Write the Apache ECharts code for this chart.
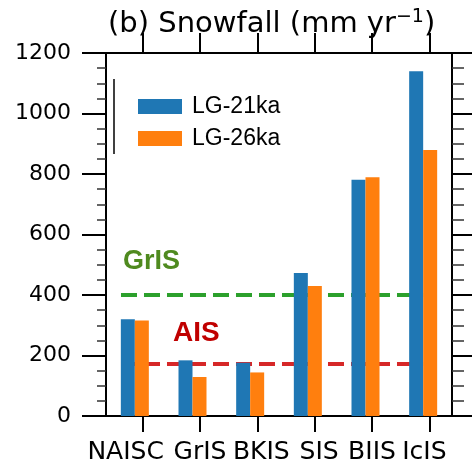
<!DOCTYPE html>
<html>
<head>
<meta charset="utf-8">
<script src="https://cdn.jsdelivr.net/npm/echarts@6/dist/echarts.min.js"></script>
<style>
  html, body { margin: 0; padding: 0; background: #fff; }
  #chart { width: 472px; height: 468px; }
</style>
</head>
<body>
<div id="chart"></div>
<script>
// ice sheets on the x axis
const categories = ['NAISC', 'GrIS', 'BKIS', 'SIS', 'BIIS', 'IcIS']
// snowfall, mm/yr
const lg21 = [320, 184, 176, 473, 781, 1140]
const lg26 = [316, 129, 144, 430, 789, 879]
// present-day reference levels
const grisLevel = 400
const aisLevel = 172
// x extent of the reference lines, in category units (0 = first category)
const refSpan = [-0.24, 5]
const yTicks = [0, 200, 400, 600, 800, 1000, 1200]

const chart = echarts.init(document.getElementById('chart'))

const tickFont = 'DejaVu Sans'
const black = '#000'
const catLabel = { fontFamily: tickFont, fontSize: 25, color: black }
// labels in the original are not quite centred on their ticks
const labelPad = [[0, 34, 0, 0], [0, 0, 0, 0], [0, 0, 0, 8], [0, 0, 0, 9], [0, 0, 0, 0], [0, 10, 0, 0]]

chart.setOption({
  animation: false,
  title: {
    left: 103,
    top: 3,
    text: '(b) Snowfall (mm yr{sup|−1})',
    textStyle: {
      fontFamily: tickFont,
      fontSize: 29,
      fontWeight: 'normal',
      color: black,
      rich: {
        sup: { fontFamily: tickFont, fontSize: 19, color: black, padding: [0, 0, 14, 0] },
      },
    },
  },
  legend: {
    orient: 'vertical',
    left: 133,
    top: 90,
    itemWidth: 44,
    itemHeight: 15,
    itemGap: 9,
    icon: 'rect',
    data: ['LG-21ka', 'LG-26ka'],
    textStyle: { fontFamily: 'Liberation Sans', fontSize: 23, color: black, padding: [0, 0, 0, 5] },
  },
  grid: [
    { left: 106, top: 53, width: 346, height: 363 },
    { left: 114, top: 53, width: 344, height: 363 },
  ],
  xAxis: [
    {
      type: 'category', gridIndex: 0, position: 'bottom', data: categories,
      axisLine: { onZero: false, lineStyle: { color: black, width: 2 } },
      axisTick: { show: false }, axisLabel: { show: false },
    },
    {
      type: 'category', gridIndex: 0, position: 'top', data: categories,
      axisLine: { onZero: false, lineStyle: { color: black, width: 2 } },
      axisTick: { show: false }, axisLabel: { show: false },
    },
    { type: 'value', gridIndex: 0, min: -0.5, max: 5.5, show: false },
    {
      type: 'category', gridIndex: 1, position: 'bottom', data: categories,
      axisLine: { show: false, onZero: false },
      axisTick: { show: true, alignWithLabel: true, length: 16, lineStyle: { color: black, width: 2 } },
      axisLabel: {
        interval: 0, margin: 24, ...catLabel,
        formatter: (v, i) => `{p${i}|${v}}`,
        rich: Object.fromEntries(labelPad.map((p, i) => ['p' + i, { ...catLabel, padding: p }])),
      },
    },
    {
      type: 'category', gridIndex: 1, position: 'top', data: categories,
      axisLine: { show: false, onZero: false },
      axisTick: { show: true, alignWithLabel: true, length: 20, lineStyle: { color: black, width: 2 } },
      axisLabel: { show: false },
    },
  ],
  yAxis: [
    {
      type: 'value', gridIndex: 0, position: 'left', min: 0, max: 1200, interval: 200,
      axisLine: { show: true, onZero: false, lineStyle: { color: black, width: 2 } },
      axisTick: { show: true, length: 24, lineStyle: { color: black, width: 2 } },
      minorTick: { show: true, splitNumber: 4, length: 9, lineStyle: { color: '#333', width: 1.5 } },
      axisLabel: { fontFamily: tickFont, fontSize: 22, color: black, margin: 35,
        formatter: (v) => (yTicks.includes(v) ? String(v) : '') },
      splitLine: { show: false },
    },
    {
      type: 'value', gridIndex: 0, position: 'right', min: 0, max: 1200, interval: 200,
      axisLine: { show: true, onZero: false, lineStyle: { color: black, width: 2 } },
      axisTick: { show: true, length: 20, lineStyle: { color: black, width: 2 } },
      minorTick: { show: true, splitNumber: 4, length: 12, lineStyle: { color: '#333', width: 1.5 } },
      axisLabel: { show: false },
      splitLine: { show: false },
    },
    { type: 'value', gridIndex: 1, min: 0, max: 1200, show: false },
  ],
  graphic: [
    // stray bar at the legend's left edge
    { type: 'line', shape: { x1: 114, y1: 79, x2: 114, y2: 154 }, style: { stroke: black, lineWidth: 1.5 } },
    {
      type: 'text', x: 123, y: 261.5,
      style: { text: 'GrIS', fill: '#4f8a1f', font: 'bold 27px "Liberation Sans"', verticalAlign: 'middle' },
    },
    {
      type: 'text', x: 173, y: 333,
      style: { text: 'AIS', fill: '#c00000', font: 'bold 28px "Liberation Sans"', verticalAlign: 'middle' },
    },
  ],
  series: [
    {
      type: 'line', xAxisIndex: 2, yAxisIndex: 0, z: 1, symbol: 'none',
      data: refSpan.map((x) => [x, grisLevel]),
      lineStyle: { color: '#2ca02c', width: 4, type: [16, 7] },
    },
    {
      type: 'line', xAxisIndex: 2, yAxisIndex: 0, z: 1, symbol: 'none',
      data: refSpan.map((x) => [x, aisLevel]),
      lineStyle: { color: '#d62728', width: 4, type: [16, 7] },
    },
    {
      name: 'LG-21ka', type: 'bar', xAxisIndex: 0, yAxisIndex: 0, z: 3,
      data: lg21, barWidth: 14, barGap: '0%',
      itemStyle: { color: '#1f77b4' },
    },
    {
      name: 'LG-26ka', type: 'bar', xAxisIndex: 0, yAxisIndex: 0, z: 3,
      data: lg26, barWidth: 14, barGap: '0%',
      itemStyle: { color: '#ff7f0e' },
    },
  ],
})
</script>
</body>
</html>
